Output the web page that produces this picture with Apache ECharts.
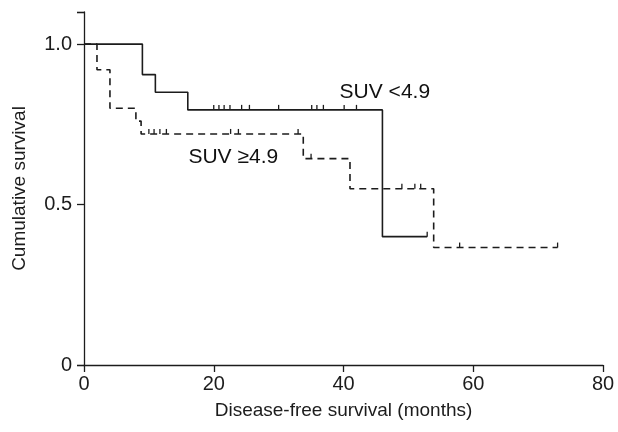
<!DOCTYPE html>
<html>
<head>
<meta charset="utf-8">
<script src="https://cdn.jsdelivr.net/npm/echarts@6/dist/echarts.min.js"></script>
<style>
  html, body { margin: 0; padding: 0; background: #fff; }
  #chart { width: 618px; height: 432px; }
</style>
</head>
<body>
<div id="chart"></div>
<script>
// SUV <4.9 (solid)
var lowTimes = [0, 9, 11, 16, 46, 52.9];
var lowSurv = [1, 0.905, 0.85, 0.795, 0.40, 0.40];
var lowCensored = [20.0, 20.8, 21.6, 22.5, 24.3, 25.5, 30.0, 35.1, 35.9, 36.9, 40.1, 42.0, 52.9];

// SUV >=4.9 (dashed)
var highTimes = [0, 2, 4, 8, 8.8, 33.8, 41, 53.9, 73];
var highSurv = [1, 0.92, 0.80, 0.76, 0.72, 0.643, 0.549, 0.366, 0.366];
var highCensored = [10.0, 10.8, 11.7, 12.7, 22.6, 23.8, 33.0, 35.0, 49.0, 51.0, 51.9, 57.9, 73.0];

var xTicks = [0, 20, 40, 60, 80];
var yTickLabels = {0: '0', 0.5: '0.5', 1: '1.0'};

var font = 'Liberation Sans, Arial, Helvetica, sans-serif';
var ink = '#1c1c1c';

// survival value at time t
function stepAt(times, surv, t) {
    var s = surv[0];
    for (var i = 0; i < times.length; i++) {
        if (times[i] <= t) s = surv[i];
    }
    return s;
}

function pairs(a, b) {
    return a.map(function (v, i) { return [v, b[i]]; });
}

var chart = echarts.init(document.getElementById('chart'));

var option = {
    backgroundColor: '#fff',
    animation: false,
    grid: { left: 84, right: 15, top: 12, bottom: 67 },
    xAxis: {
        type: 'value',
        min: xTicks[0],
        max: xTicks[xTicks.length - 1],
        interval: 20,
        name: 'Disease-free survival (months)',
        nameLocation: 'middle',
        nameGap: 36,
        nameTextStyle: { fontFamily: font, fontSize: 19, color: ink },
        axisLine: { lineStyle: { color: ink, width: 1.3 } },
        axisTick: { length: 7, lineStyle: { color: ink, width: 1.3 } },
        axisLabel: { margin: 9, fontFamily: font, fontSize: 20, color: ink },
        splitLine: { show: false }
    },
    yAxis: [{
        type: 'value',
        min: 0,
        max: 1.1,
        interval: 0.5,
        name: 'Cumulative survival',
        nameLocation: 'middle',
        nameGap: 55,
        nameTextStyle: { fontFamily: font, fontSize: 19, color: ink },
        axisLine: { show: true, lineStyle: { color: ink, width: 1.3 } },
        axisTick: { show: true, length: 7, lineStyle: { color: ink, width: 1.3 } },
        axisLabel: {
            margin: 12, fontFamily: font, fontSize: 20, color: ink,
            formatter: function (v) { return yTickLabels[v] !== undefined ? yTickLabels[v] : ''; }
        },
        splitLine: { show: false }
    }, {
        // only to put the small tick at the top end of the axis
        type: 'value',
        position: 'left',
        min: 0,
        max: 1.1,
        interval: 1.1,
        axisLine: { show: false },
        axisTick: { show: true, length: 7, lineStyle: { color: ink, width: 1.3 } },
        axisLabel: { show: false },
        splitLine: { show: false }
    }],
    series: [
        {
            name: 'SUV <4.9',
            type: 'line',
            step: 'end',
            symbol: 'none',
            data: pairs(lowTimes, lowSurv),
            lineStyle: { color: ink, width: 1.6 }
        },
        {
            name: 'SUV ≥4.9',
            type: 'line',
            step: 'end',
            symbol: 'none',
            data: pairs(highTimes, highSurv),
            lineStyle: { color: ink, width: 1.6, type: [7, 5] }
        },
        {
            type: 'scatter',
            symbol: 'rect',
            symbolSize: [1.3, 5],
            symbolOffset: [0, -2.5],
            itemStyle: { color: ink, opacity: 1 },
            data: lowCensored.map(function (t) { return [t, stepAt(lowTimes, lowSurv, t)]; })
        },
        {
            type: 'scatter',
            symbol: 'rect',
            symbolSize: [1.3, 5],
            symbolOffset: [0, -2.5],
            itemStyle: { color: ink, opacity: 1 },
            data: highCensored.map(function (t) { return [t, stepAt(highTimes, highSurv, t)]; })
        },
        {
            // curve labels
            type: 'scatter',
            symbolSize: 0,
            silent: true,
            itemStyle: { opacity: 1 },
            label: {
                show: true,
                position: 'right',
                distance: 0,
                opacity: 1,
                fontFamily: font,
                fontSize: 21,
                color: '#111',
                formatter: function (p) { return p.data[2]; }
            },
            data: [[39.4, 0.849, 'SUV <4.9'], [16.1, 0.646, 'SUV ≥4.9']]
        }
    ]
};

chart.setOption(option);
</script>
</body>
</html>
